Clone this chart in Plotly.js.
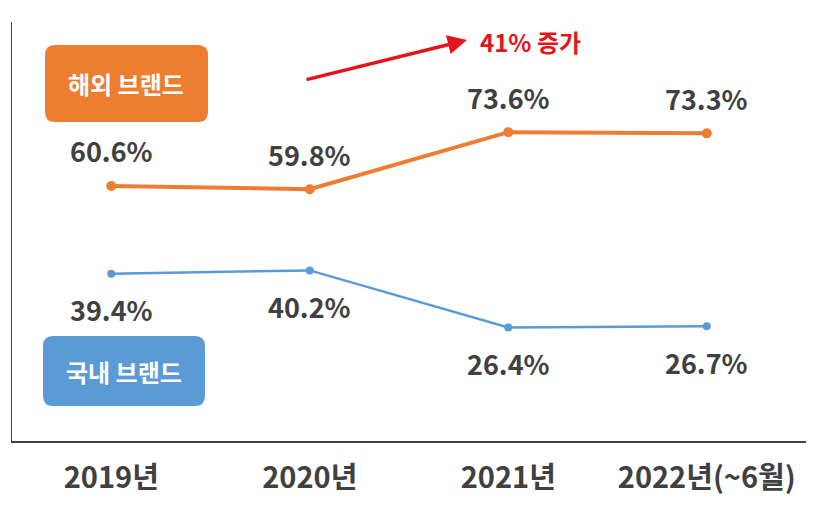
<!DOCTYPE html>
<html><head><meta charset="utf-8">
<script src="https://cdn.plot.ly/plotly-3.0.1.min.js"></script>
<style>html,body{margin:0;padding:0;background:#fff}#chart{width:834px;height:507px}</style>
</head><body><div id="chart"></div>
<script>
const categories = ['2019년', '2020년', '2021년', '2022년(~6월)'];
const overseas = [60.6, 59.8, 73.6, 73.3];
const domestic = [39.4, 40.2, 26.4, 26.7];
const seriesNames = ['해외 브랜드', '국내 브랜드'];
const noteText = '41% 증가';

const ORANGE = '#ED7D31', BLUE = '#5B9BD5', TXT = '#404040', RED = '#E3141B';
const xIdx = categories.map((_, i) => i);
const F = 'Noto Sans CJK KR, sans-serif';

// plot area in pixels
const L = 12, R = 806, T = 22, B = 441;
const px = p => (p - L) / (R - L);
const py = p => (B - p) / (B - T);
function roundRect(x0, y0, x1, y1, r) {
  const rx = r / (R - L), ry = r / (B - T);
  const a = px(x0), b = px(x1), top = py(y0), bot = py(y1);
  return `M${a + rx},${top} L${b - rx},${top} Q${b},${top} ${b},${top - ry} L${b},${bot + ry} Q${b},${bot} ${b - rx},${bot} L${a + rx},${bot} Q${a},${bot} ${a},${bot + ry} L${a},${top - ry} Q${a},${top} ${a + rx},${top} Z`;
}

const traces = [
  {x: xIdx, y: overseas, type: 'scatter', mode: 'lines+markers', name: seriesNames[0],
   line: {color: ORANGE, width: 4}, marker: {color: ORANGE, size: 10}},
  {x: xIdx, y: domestic, type: 'scatter', mode: 'lines+markers', name: seriesNames[1],
   line: {color: BLUE, width: 2.5}, marker: {color: BLUE, size: 8}}
];

const annotations = [];
overseas.forEach((v, i) => annotations.push({x: i, y: v, xref: 'x', yref: 'y', text: v.toFixed(1) + '%',
  showarrow: false, yshift: 35, font: {family: F, size: 27, color: TXT, weight: 'bold'}}));
domestic.forEach((v, i) => annotations.push({x: i, y: v, xref: 'x', yref: 'y', text: v.toFixed(1) + '%',
  showarrow: false, yshift: -36, font: {family: F, size: 27, color: TXT, weight: 'bold'}}));
annotations.push({xref: 'paper', yref: 'paper', x: px(126), y: py(83), xanchor: 'center', yanchor: 'middle',
  text: seriesNames[0], showarrow: false, font: {family: F, size: 24, color: '#ffffff', weight: 'bold'}});
annotations.push({xref: 'paper', yref: 'paper', x: px(124), y: py(371), xanchor: 'center', yanchor: 'middle',
  text: seriesNames[1], showarrow: false, font: {family: F, size: 24, color: '#ffffff', weight: 'bold'}});
annotations.push({xref: 'paper', yref: 'paper', x: px(467), y: py(40), text: '', showarrow: true,
  ax: -162, ay: 40, arrowhead: 2, arrowsize: 1.1, arrowwidth: 3.5, arrowcolor: RED});
annotations.push({xref: 'paper', yref: 'paper', x: px(478), y: py(41), xanchor: 'left', yanchor: 'middle',
  text: noteText, showarrow: false, font: {family: F, size: 24, color: RED, weight: 'bold'}});

const layout = {
  width: 834, height: 507,
  margin: {l: L, r: 834 - R, t: T, b: 507 - B, pad: 0},
  paper_bgcolor: '#ffffff', plot_bgcolor: '#ffffff',
  showlegend: false,
  xaxis: {range: [-0.5, 3.5], tickvals: xIdx, ticktext: categories, showgrid: false, zeroline: false,
    showline: true, linecolor: '#404040', linewidth: 1.5, ticks: '', ticklabelstandoff: 11,
    tickfont: {family: F, size: 29, color: TXT, weight: 'bold'}, fixedrange: true},
  yaxis: {range: [-1, 100.2], showgrid: false, zeroline: false, showticklabels: false,
    showline: true, linecolor: '#404040', linewidth: 1.5, ticks: '', fixedrange: true},
  shapes: [
    {type: 'path', xref: 'paper', yref: 'paper', path: roundRect(45, 45, 208, 122, 10), fillcolor: ORANGE, line: {width: 0}, layer: 'below'},
    {type: 'path', xref: 'paper', yref: 'paper', path: roundRect(43, 336, 205, 406, 10), fillcolor: BLUE, line: {width: 0}, layer: 'below'}
  ],
  annotations: annotations
};
Plotly.newPlot('chart', traces, layout, {displayModeBar: false, staticPlot: true});
</script></body></html>
